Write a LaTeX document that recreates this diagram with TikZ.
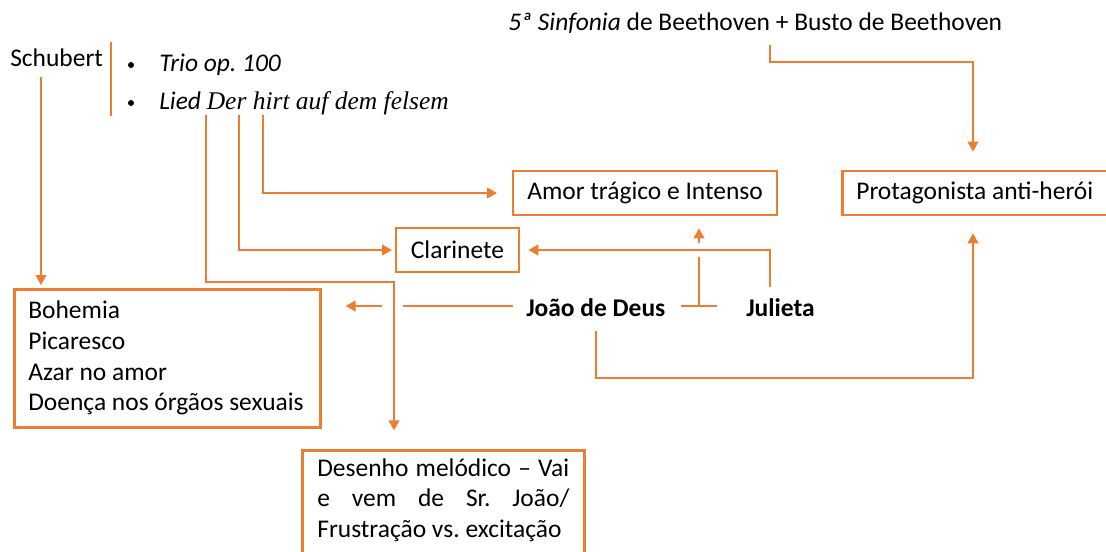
\documentclass[tikz,border=0pt]{standalone}
\usepackage{fontspec}
\setmainfont{Carlito}
\newfontfamily\tnr{Liberation Serif}
\usetikzlibrary{arrows.meta}
\definecolor{org}{HTML}{ED7D31}
\frenchspacing
\begin{document}
\begin{tikzpicture}[x=0.75pt,y=-0.75pt,
  every node/.style={font=\fontsize{19.1}{23}\selectfont\frenchspacing, inner sep=0pt},
  conn/.style={draw=org, line width=1.5pt},
  arr/.style={conn, -{Triangle[length=7.5pt,width=8pt]}},
  box/.style={draw=org, line width=2pt},
  lbl/.style={anchor=base west},
  bul/.style={circle, fill=black, minimum size=4.5pt}]
\fill[white] (0,0) rectangle (1106,551);
\useasboundingbox (0,0) rectangle (1106,551);

% texts
\node[lbl] (schubert) at (10,66) {Schubert};
\node[bul] (b1) at (131,65) {};
\node[bul] (b2) at (131,103) {};
\node[lbl] (trio) at (159,71) {\itshape Trio op. 100};
\node[lbl] (lied) at (159,109) {\itshape Lied {\tnr Der hirt auf dem felsem}};
\node[lbl] (sinf) at (508,30) {{\itshape 5ª Sinfonia} de Beethoven + Busto de Beethoven};
\node[lbl] (joao) at (526,316) {\bfseries João de Deus};
\node[lbl] (jul) at (746,316) {\bfseries Julieta};

% boxes
\node[box, minimum width=198pt, minimum height=33pt] (amor) at (645,193) {Amor trágico e Intenso};
\node[box, minimum width=92.25pt, minimum height=33pt] (clar) at (457.5,250) {Clarinete};
\node[box, anchor=west, minimum height=33pt, text width=182.25pt, inner xsep=10.5pt, align=flush left] (prot) at (841,193) {Protagonista anti-herói};
\node[box, anchor=north west, text width=208.5pt, inner xsep=10.5pt, align=flush left, minimum height=103.5pt] (boh) at (13,288)
  {Bohemia\\Picaresco\\Azar no amor\\Doença nos órgãos sexuais};
\node[box, anchor=north west, text width=189pt, inner xsep=11.25pt, inner ysep=6pt, align=flush left] (des) at (301,449)
  {\makebox[189pt][s]{Desenho melódico – Vai}\\\makebox[189pt][s]{e vem de Sr. João/}\\Frustração vs. excitação\rule[-40pt]{0pt}{0pt}};

% Schubert bar
\draw[conn] (111,42) -- (111,116);

% coordinates
\coordinate (s0) at (41,77);
\coordinate (l1) at (206,115);
\coordinate (l2) at (239,115);
\coordinate (l3) at (263,115);
\coordinate (k1) at (394,282);
\coordinate (s1) at (770,45);
\coordinate (s2) at (973,62);
\coordinate (j1) at (770,287);
\coordinate (tl) at (681,306);
\coordinate (tr) at (717,306);
\coordinate (tm) at (699,306);
\coordinate (tg) at (699,257);
\coordinate (ta) at (699,243);
\coordinate (jw) at (513,306);
\coordinate (g1) at (403,306);
\coordinate (g2) at (382,306);
\coordinate (jb) at (596,331);
\coordinate (jc) at (973,378);

% connectors
\draw[arr, shorten >=2.25pt] (s0) -- (s0 |- boh.north);
\draw[arr, shorten >=14pt] (l1) |- (k1) -- (k1 |- des.north);
\draw[arr, shorten >=2pt] (l2) |- (clar.west);
\draw[arr, shorten >=11pt] (l3) |- (amor.west);
\draw[arr, shorten >=13.5pt] (s1) |- (s2) -- (s2 |- prot.north);
\draw[arr, shorten >=6pt] (j1) |- (clar.east);
\draw[conn] (tl) -- (tr);
\draw[conn] (tm) -- (tg);
\draw[arr, shorten >=9pt] (ta) -- (ta |- amor.south);
\draw[conn] (jw) -- (g1);
\draw[arr, shorten >=18pt] (g2) -- (g2 -| boh.east);
\draw[arr, shorten >=12.75pt] (jb) |- (jc) -- (jc |- prot.south);
\end{tikzpicture}
\end{document}
